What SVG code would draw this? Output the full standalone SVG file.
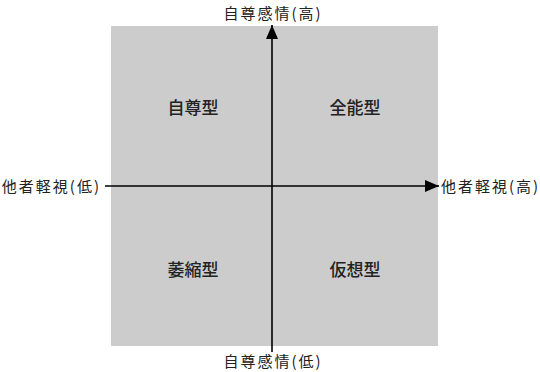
<svg xmlns="http://www.w3.org/2000/svg" width="540" height="372" viewBox="0 0 540 372">
<style>
.ax{font-family:"Noto Sans CJK JP","Noto Sans CJK SC",sans-serif;font-size:15px;letter-spacing:2px;fill:#222}
.q{font-family:"Noto Sans CJK JP","Noto Sans CJK SC",sans-serif;font-size:17px;font-weight:500;fill:#222;text-anchor:middle}
.ln{stroke:#000;stroke-width:1.6;fill:none}
</style>
<defs>
<marker id="ah" markerWidth="14" markerHeight="12" refX="14" refY="6" orient="auto" markerUnits="userSpaceOnUse" viewBox="0 0 14 12">
<path d="M0,0 L14,6 L0,12 Z" fill="#000"/>
</marker>
</defs>
<rect x="111" y="26" width="327" height="320" fill="#cccccc"/>
<g id="connectors">
<line class="ln" x1="272" y1="352" x2="272" y2="25" marker-end="url(#ah)"/>
<line class="ln" x1="105" y1="186" x2="439" y2="186" marker-end="url(#ah)"/>
</g>
<g id="top"><text class="ax" x="273" y="19" text-anchor="middle">自尊感情(高)</text></g>
<g id="bottom"><text class="ax" x="273" y="367" text-anchor="middle">自尊感情(低)</text></g>
<g id="left"><text class="ax" x="101" y="192" text-anchor="end">他者軽視(低)</text></g>
<g id="right"><text class="ax" x="441" y="192">他者軽視(高)</text></g>
<g id="q1"><text class="q" x="193" y="114">自尊型</text></g>
<g id="q2"><text class="q" x="355" y="114">全能型</text></g>
<g id="q3"><text class="q" x="193" y="276">萎縮型</text></g>
<g id="q4"><text class="q" x="355" y="276">仮想型</text></g>
</svg>
